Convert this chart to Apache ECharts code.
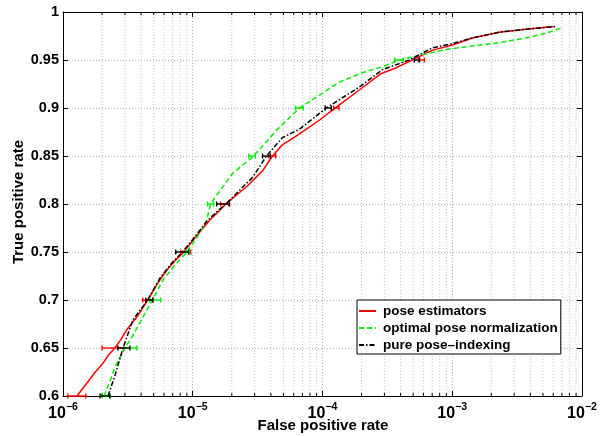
<!DOCTYPE html>
<html><head><meta charset="utf-8">
<script src="https://cdn.jsdelivr.net/npm/echarts@6/dist/echarts.min.js"></script>
<style>html,body{margin:0;padding:0;background:#fff}#c{width:600px;height:436px}</style>
</head><body><div id="c"></div>
<script>
// ---- data ----
const seriesNames = ['pose estimators', 'optimal pose normalization', 'pure pose\u2013indexing'];
const xTitle = 'False positive rate';
const yTitle = 'True positive rate';
const xMin = 1e-6, xMax = 1e-2;
const yMin = 0.6, yMax = 1.0, yStep = 0.05;
const minorX = [2e-6,3e-6,4e-6,5e-6,6e-6,7e-6,8e-6,9e-6,
                2e-5,3e-5,4e-5,5e-5,6e-5,7e-5,8e-5,9e-5,
                2e-4,3e-4,4e-4,5e-4,6e-4,7e-4,8e-4,9e-4,
                2e-3,3e-3,4e-3,5e-3,6e-3,7e-3,8e-3,9e-3];

const poseEstimators = [[1.28e-6,0.6],[1.5e-6,0.612],[1.75e-6,0.624],[2.03e-6,0.634],[2.25e-6,0.643],[2.51e-6,0.65],[2.8e-6,0.659],[3.1e-6,0.669],[3.7e-6,0.682],[4.5e-6,0.70],[5.4e-6,0.718],[6.3e-6,0.731],[7.3e-6,0.741],[8.4e-6,0.749],[1.0e-5,0.762],[1.35e-5,0.783],[1.6e-5,0.793],[1.83e-5,0.801],[2.6e-5,0.818],[3.47e-5,0.835],[4.07e-5,0.849],[4.84e-5,0.861],[6.65e-5,0.873],[9.5e-5,0.8875],[1.28e-4,0.901],[1.93e-4,0.919],[2.84e-4,0.936],[3.71e-4,0.942],[4.92e-4,0.95],[7.0e-4,0.960],[1.0e-3,0.9656],[1.43e-3,0.973],[2.3e-3,0.979],[3.7e-3,0.982],[6.0e-3,0.985]];
const optimalNorm = [[2.07e-6,0.6],[2.3e-6,0.615],[2.51e-6,0.63],[3.0e-6,0.65],[3.45e-6,0.663],[3.9e-6,0.676],[4.85e-6,0.699],[5.9e-6,0.721],[7.3e-6,0.7365],[9.0e-6,0.75],[1.1e-5,0.767],[1.28e-5,0.783],[1.37e-5,0.80],[2.03e-5,0.832],[2.9e-5,0.849],[4.43e-5,0.877],[6.65e-5,0.90],[9.5e-5,0.9135],[1.35e-4,0.927],[2.0e-4,0.9365],[2.9e-4,0.943],[3.9e-4,0.95],[5.6e-4,0.955],[9.0e-4,0.961],[1.43e-3,0.9646],[2.3e-3,0.968],[3.7e-3,0.973],[5.3e-3,0.978],[7.2e-3,0.984]];
const pureIndexing = [[2.22e-6,0.6],[2.5e-6,0.62],[2.9e-6,0.65],[3.45e-6,0.679],[4.5e-6,0.70],[5.6e-6,0.723],[6.9e-6,0.7385],[8.2e-6,0.749],[1.0e-5,0.763],[1.3e-5,0.783],[1.93e-5,0.804],[2.9e-5,0.828],[3.7e-5,0.85],[4.9e-5,0.869],[6.65e-5,0.878],[1.07e-4,0.90],[1.93e-4,0.922],[2.9e-4,0.94],[4.67e-4,0.95],[7e-4,0.9625],[1e-3,0.967],[1.43e-3,0.973],[2.3e-3,0.979],[3.7e-3,0.982],[6.4e-3,0.985]];

// error bars: [y, xLow, xHigh]
const poseErr = [[0.6,1.09e-6,1.5e-6],[0.65,2.0e-6,2.95e-6],[0.70,4.12e-6,4.92e-6],[0.75,8.1e-6,9.65e-6],[0.80,1.64e-5,1.9e-5],[0.85,3.84e-5,4.36e-5],[0.90,1.22e-4,1.34e-4],[0.95,5.5e-4,6.1e-4]];
const optErr  = [[0.6,2.0e-6,2.3e-6],[0.65,2.95e-6,3.71e-6],[0.70,4.67e-6,5.66e-6],[0.75,8.85e-6,9.48e-6],[0.80,1.30e-5,1.45e-5],[0.85,2.7e-5,3.04e-5],[0.90,6.2e-5,7.1e-5],[0.95,3.6e-4,4.2e-4]];
const pureErr = [[0.6,1.93e-6,2.3e-6],[0.65,2.65e-6,3.28e-6],[0.70,4.35e-6,4.92e-6],[0.75,7.4e-6,9.3e-6],[0.80,1.53e-5,1.92e-5],[0.85,3.45e-5,3.96e-5],[0.90,1.05e-4,1.17e-4],[0.95,5.1e-4,5.6e-4]];

const colors = ['#ff0000', '#00ee00', '#000000'];
const FONT = '"Liberation Sans", Arial, Helvetica, sans-serif';

function errSeries(data, color) {
  return {
    type: 'custom', data: data, encode: {x: [1, 2], y: 0}, z: 5, silent: true,
    renderItem: function (params, api) {
      const y = api.value(0);
      const a = api.coord([api.value(1), y]);
      const b = api.coord([api.value(2), y]);
      const st = {stroke: color, lineWidth: 1.4};
      return {type: 'group', children: [
        {type: 'line', shape: {x1: a[0], y1: a[1], x2: b[0], y2: b[1]}, style: st},
        {type: 'line', shape: {x1: a[0], y1: a[1] - 2.5, x2: a[0], y2: a[1] + 2.5}, style: st},
        {type: 'line', shape: {x1: b[0], y1: b[1] - 2.5, x2: b[0], y2: b[1] + 2.5}, style: st}
      ]};
    }
  };
}

const chart = echarts.init(document.getElementById('c'), null, {renderer: 'canvas'});
const gridLine = {show: true, lineStyle: {color: '#b4b4b4', type: [1, 2], width: 1}};
const boxLine = {show: true, lineStyle: {color: '#000', width: 1}};
chart.setOption({
  animation: false,
  backgroundColor: '#fff',
  textStyle: {fontFamily: FONT},
  grid: {left: 63, right: 18, top: 12, bottom: 40, containLabel: false, outerBoundsMode: 'none'},
  graphic: [
    {type: 'text', x: 323, y: 426, silent: true,
      style: {text: xTitle, font: 'bold 15px ' + FONT, fill: '#000', align: 'center', verticalAlign: 'middle'}},
    {type: 'text', x: 19, y: 202, rotation: Math.PI / 2, silent: true,
      style: {text: yTitle, font: 'bold 15px ' + FONT, fill: '#000', align: 'center', verticalAlign: 'middle'}}
  ],
  legend: {
    data: seriesNames, orient: 'vertical', left: 357, top: 300,
    padding: [4, 3, 2, 1], itemGap: 3, itemWidth: 17, itemHeight: 14,
    itemStyle: {opacity: 0},
    borderColor: '#000', borderWidth: 1, backgroundColor: '#fff',
    textStyle: {fontFamily: FONT, fontWeight: 'bold', fontSize: 13.5, color: '#000', padding: [0, 0, 0, 2]}
  },
  xAxis: [{
    type: 'log', logBase: 10, min: xMin, max: xMax, position: 'bottom',
    axisLine: boxLine,
    axisTick: {show: true, inside: true, length: 5, lineStyle: {color: '#000'}},
    splitLine: gridLine,
    axisLabel: {
      margin: 6, color: '#000',
      formatter: function (v) { const e = Math.round(Math.log10(v)); return '{b|10}{s|' + (e < 0 ? '\u2212' + (-e) : e) + '}'; },
      rich: {
        b: {fontFamily: FONT, fontWeight: 'bold', fontSize: 16, color: '#000', verticalAlign: 'bottom', lineHeight: 20},
        s: {fontFamily: FONT, fontWeight: 'bold', fontSize: 10.5, color: '#000', verticalAlign: 'top', lineHeight: 12}
      }
    }
  }, {
    type: 'log', logBase: 10, min: xMin, max: xMax, position: 'top',
    axisLine: boxLine, axisLabel: {show: false}, splitLine: {show: false},
    axisTick: {show: true, inside: true, length: 5, lineStyle: {color: '#000'}}
  }],
  yAxis: [{
    type: 'value', min: yMin, max: yMax, interval: yStep, position: 'left',
    axisLine: boxLine,
    axisTick: {show: true, inside: true, length: 5, lineStyle: {color: '#000'}},
    splitLine: gridLine,
    axisLabel: {margin: 4, color: '#000', fontFamily: FONT, fontWeight: 'bold', fontSize: 14.5,
      formatter: function (v) { return String(+v.toFixed(2)); }}
  }, {
    type: 'value', min: yMin, max: yMax, interval: yStep, position: 'right',
    axisLine: boxLine, axisLabel: {show: false}, splitLine: {show: false},
    axisTick: {show: true, inside: true, length: 5, lineStyle: {color: '#000'}}
  }],
  series: [
    {
      type: 'custom', data: minorX.map(v => [v]), encode: {x: 0}, z: 1, silent: true,
      renderItem: function (params, api) {
        const v = api.value(0);
        const p0 = api.coord([v, yMin]);
        const p1 = api.coord([v, yMax]);
        return {type: 'group', children: [
          {type: 'line', shape: {x1: p0[0], y1: p0[1], x2: p1[0], y2: p1[1]}, style: {stroke: '#c4c4c4', lineWidth: 1, lineDash: [1, 2]}},
          {type: 'line', shape: {x1: p0[0], y1: p0[1], x2: p0[0], y2: p0[1] - 3}, style: {stroke: '#000', lineWidth: 1}},
          {type: 'line', shape: {x1: p1[0], y1: p1[1], x2: p1[0], y2: p1[1] + 3}, style: {stroke: '#000', lineWidth: 1}}
        ]};
      }
    },
    {name: seriesNames[0], type: 'line', data: poseEstimators, symbol: 'none', smooth: false, z: 3,
      color: colors[0], lineStyle: {color: colors[0], width: 1.5, type: 'solid'}},
    {name: seriesNames[1], type: 'line', data: optimalNorm, symbol: 'none', smooth: false, z: 3,
      color: colors[1], lineStyle: {color: colors[1], width: 1.5, type: [5, 3]}},
    {name: seriesNames[2], type: 'line', data: pureIndexing, symbol: 'none', smooth: false, z: 4,
      color: colors[2], lineStyle: {color: colors[2], width: 1.5, type: [5, 2, 1.5, 2]}},
    errSeries(poseErr, colors[0]),
    errSeries(optErr, colors[1]),
    errSeries(pureErr, colors[2])
  ]
});
</script>
</body></html>
